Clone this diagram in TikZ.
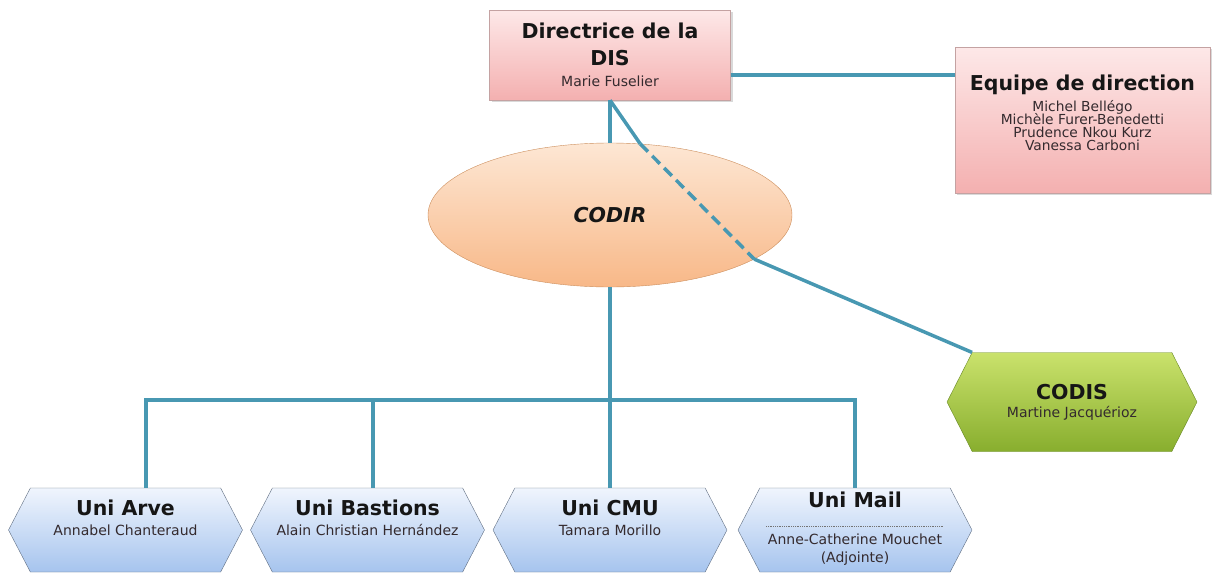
\documentclass[tikz,border=0pt]{standalone}
\usepackage{fontspec}
\setmainfont{DejaVu Sans}
\usetikzlibrary{shapes.geometric,shapes.symbols,shadows,calc}

\definecolor{linkcol}{RGB}{72,152,178}
\definecolor{pinktop}{RGB}{253,232,232}
\definecolor{pinkbot}{RGB}{244,176,176}
\definecolor{pinkline}{RGB}{196,162,162}
\definecolor{orgtop}{RGB}{253,231,212}
\definecolor{orgbot}{RGB}{248,184,136}
\definecolor{orgline}{RGB}{204,142,92}
\definecolor{unitop}{RGB}{240,245,253}
\definecolor{unibot}{RGB}{166,196,238}
\definecolor{uniline}{RGB}{96,110,130}
\definecolor{grntop}{RGB}{202,226,108}
\definecolor{grnbot}{RGB}{136,174,46}
\definecolor{grnline}{RGB}{104,136,36}
\definecolor{ttlcol}{RGB}{22,22,22}
\definecolor{whocol}{RGB}{52,42,46}

\newcommand{\ttlfont}{\fontsize{20.5}{25}\selectfont\bfseries\color{ttlcol}}
\newcommand{\whofont}{\fontsize{14}{16}\selectfont\color{whocol}}
\newcommand{\teamfont}{\fontsize{13.8}{13}\selectfont\color{whocol}}
\newcommand{\lnfont}{\fontsize{13}{13}\selectfont\lineskiplimit=-100pt}

\tikzset{
  link/.style={draw=linkcol,line width=3.5pt},
  pinkbox/.style={rectangle,draw=pinkline,top color=pinktop,bottom color=pinkbot,align=center,font=\lnfont,
    drop shadow={opacity=0.3,shadow xshift=2pt,shadow yshift=-2pt}},
  hexa/.style={shape=signal,signal to=east and west,inner sep=0pt,align=center,font=\lnfont},
  unibox/.style={hexa,signal pointer angle=125,draw=uniline,top color=unitop,bottom color=unibot,
    minimum width=234pt,minimum height=84pt},
  txt/.style={align=center,inner sep=0pt,font=\lnfont},
  sepline/.style={draw=black!55,densely dotted,line width=0.8pt}
}

\begin{document}
\begin{tikzpicture}[x=1pt,y=-1pt]
\useasboundingbox (0,0) rectangle (1216,573);

%bus points
\coordinate (b1) at (146,400);
\coordinate (b2) at (373,400);
\coordinate (b4) at (855,400);

%top boxes
\node[pinkbox,minimum width=241pt,minimum height=90pt] (dir) at (610,55)
  {\ttlfont Directrice de la\\[14pt] \ttlfont DIS\\[8pt] \whofont Marie Fuselier};
\node[pinkbox,minimum width=255pt,minimum height=146pt] (equipe) at (1082.5,120) {};
\node[txt] (equipe-txt) at (1082.5,112.5)
  {\ttlfont Equipe de direction\\[8pt] \teamfont Michel Bellégo\\ \teamfont Michèle Furer-Benedetti\\
   \teamfont Prudence Nkou Kurz\\ \teamfont Vanessa Carboni};

%codir and codis
\node[ellipse,draw=orgline,top color=orgtop,bottom color=orgbot,
  minimum width=364pt,minimum height=144pt] (codir) at (610,215) {\ttlfont\itshape CODIR};
\node[hexa,signal pointer angle=126,draw=grnline,top color=grntop,bottom color=grnbot,
  minimum width=250pt,minimum height=99pt] (codis) at (1072,402)
  {\ttlfont CODIS\\[5pt] \whofont Martine Jacquérioz};

%sites
\foreach \nm/\x in {arve/125.5,bastions/367.5,cmu/610,mail/855}
  \node[unibox] (\nm) at (\x,530) {};
\foreach \nm/\ttl/\who in {arve/Uni Arve/Annabel Chanteraud,
    bastions/Uni Bastions/Alain Christian Hernández,cmu/Uni CMU/Tamara Morillo}
  \node[txt] (\nm-txt) at ($(\nm)+(0,-12.5)$) {\ttlfont \ttl\\[7pt] \whofont \who};
\node[txt] (mail-ttl) at (855,500) {\ttlfont Uni Mail};
\node[txt] (mail-who) at (855,550) {\whofont Anne-Catherine Mouchet\\[5pt] \whofont (Adjointe)};
\draw[sepline] ($(mail-who.north)+(-89,-8)$) -- ($(mail-who.north)+(89,-8)$);

%links
\draw[link] ([yshift=-20pt]dir.east) -- ([yshift=-20pt]dir.east -| equipe.west);
\draw[link] (dir.south) -- (codir.north);
\draw[link] (dir.south) -- (codir.67);
\draw[link,dash pattern=on 11pt off 6pt] (codir.67) -- (codir.-17);
\draw[link] (codir.-17) -- (codis.north west);
\draw[link] (codir.south) -- (cmu.north);
\draw[link] (b1 |- arve.north) -- (b1) -- (b4) -- (b4 |- mail.north);
\draw[link] (b2) -- (b2 |- bastions.north);

\end{tikzpicture}
\end{document}
